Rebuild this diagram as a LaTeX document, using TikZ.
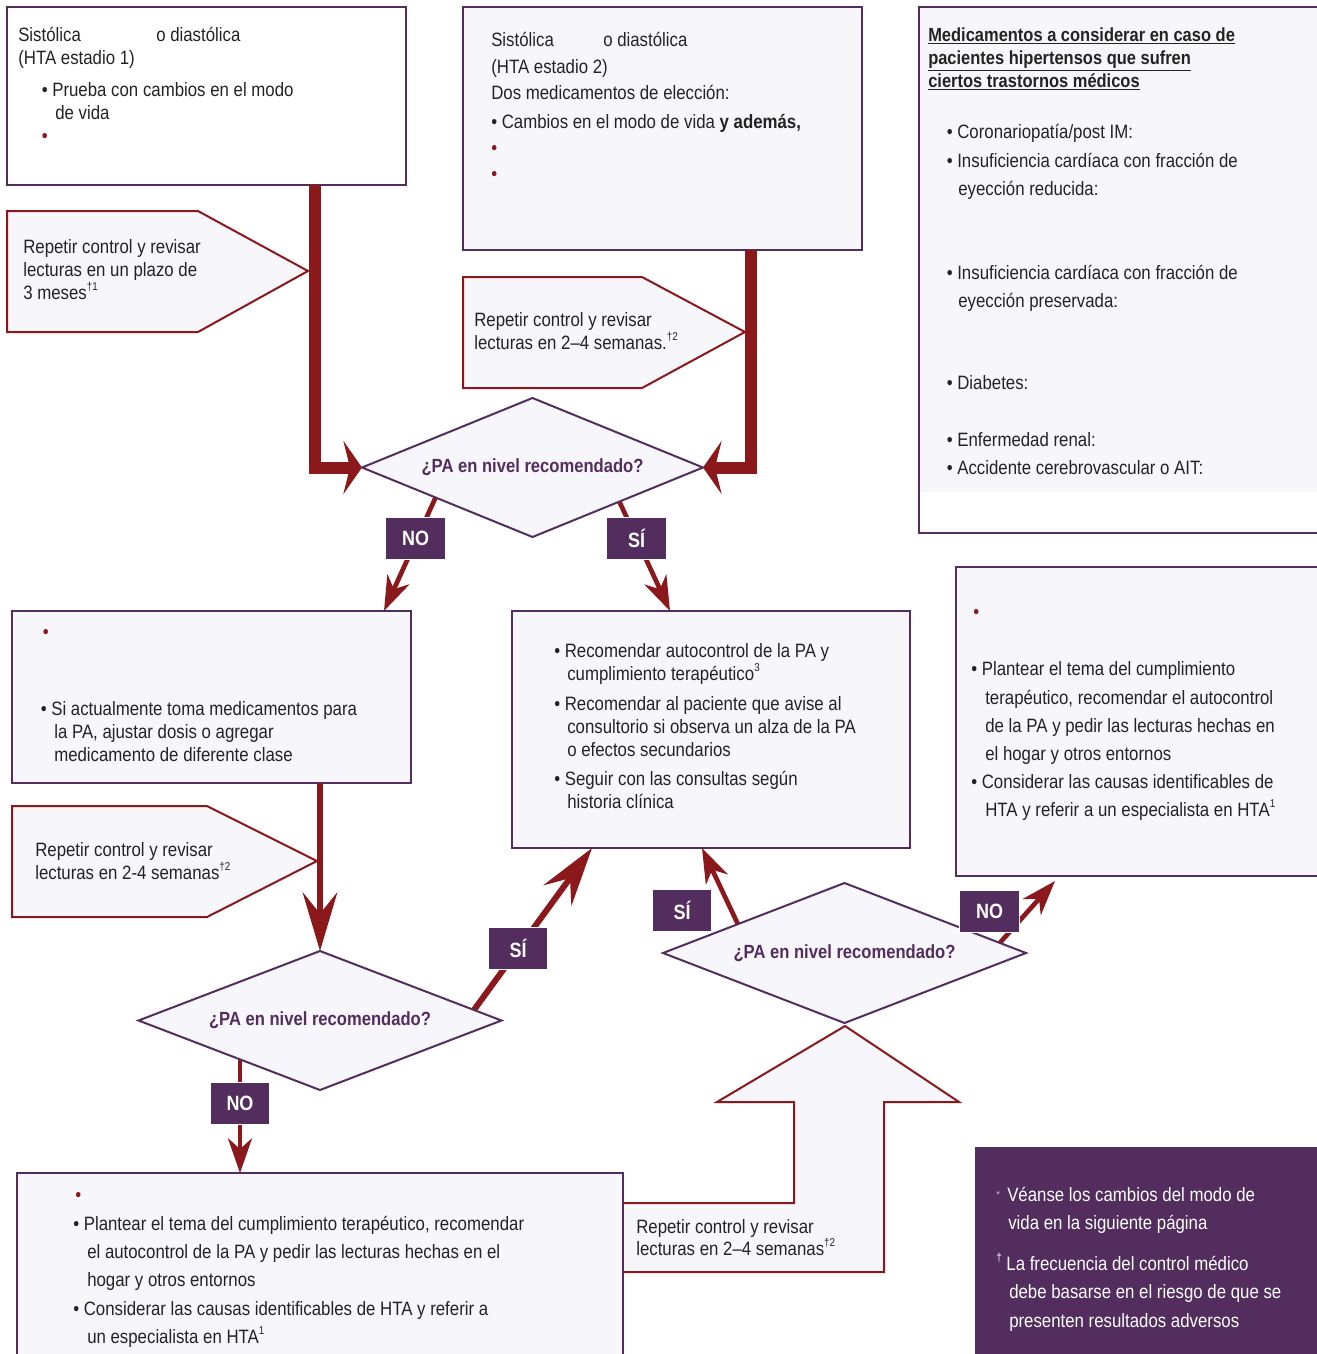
\documentclass[tikz,border=0pt]{standalone}
\usepackage{fontspec}
\setmainfont{Liberation Sans}[FakeStretch=0.87]
\usetikzlibrary{arrows.meta,shapes.geometric,fit}
\definecolor{hpurple}{RGB}{82,45,94}
\definecolor{hred}{RGB}{139,24,27}
\definecolor{hlav}{RGB}{247,246,251}
\definecolor{htext}{RGB}{35,35,35}
\newcommand\supmark[1]{\raisebox{0.85ex}{\fontsize{8.5}{9}\selectfont #1}}
\tikzset{
  box/.style={draw=hpurple, line width=1.5pt, fill=hlav, inner sep=0pt, outer sep=0pt},
  pent/.style={draw=hred, line width=1.5pt, fill=hlav},
  txt/.style={anchor=base west, inner sep=0pt, text=htext, font=\fontsize{14.5}{17}\selectfont},
  wtxt/.style={anchor=base west, inner sep=0pt, text=white, font=\fontsize{14.5}{17}\selectfont},
  rdot/.style={anchor=base west, inner sep=0pt, text=hred, font=\fontsize{14.5}{17}\selectfont},
  dia/.style={diamond, draw=hpurple, line width=1.5pt, fill=hlav, inner sep=0pt, outer sep=0pt, aspect=2.4, text=hpurple, font=\fontsize{14.3}{16}\selectfont\bfseries},
  lab/.style={fill=hpurple, draw=white, line width=0.8pt, text=white, font=\fontsize{15.5}{16}\selectfont\bfseries, minimum width=44.5pt, minimum height=31pt, inner sep=0pt},
  thickc/.style={draw=hred, line width=9pt, -{Stealth[length=14pt,width=40pt,inset=5pt]}},
  bigc/.style={draw=hred, line width=4.5pt, -{Stealth[length=44pt,width=26pt,inset=16pt]}},
  smallc/.style={draw=hred, line width=3.5pt, -{Stealth[length=26pt,width=18pt,inset=8pt]}}
}
\begin{document}
\begin{tikzpicture}[x=0.75pt,y=-0.75pt]
\useasboundingbox (0,0) rectangle (1317,1354);
\clip (0,0) rectangle (1317,1354);
% ---------- boxes ----------
\node[box, fill=white, fit={(7,7) (406,185)}] (b1) {};
\node[box, fit={(463,7) (862,250)}] (b2) {};
\node[box, fill=white, fit={(919,7) (1325,533)}] (b3) {};
\fill[hlav] (920,8) rectangle (1325,492);
\node[box, fit={(12,611) (411,783)}] (b4) {};
\node[box, fit={(512,611) (910,848)}] (b5) {};
\node[box, fit={(956,567) (1325,876)}] (b7) {};
% pentagons
\draw[pent] (7,211) -- (198,211) -- (308,271) -- (198,332) -- (7,332) -- cycle;
\draw[pent] (463,277) -- (642,277) -- (745,332) -- (642,388) -- (463,388) -- cycle;
\draw[pent] (12,806) -- (207,806) -- (317,861) -- (207,917) -- (12,917) -- cycle;
% big up arrow
\draw[pent] (623,1203) -- (794,1203) -- (794,1102) -- (717,1102) -- (845,1026) -- (959,1102) -- (884,1102) -- (884,1272) -- (623,1272);
\node[box, fit={(17,1173) (623,1362)}] (b6) {};
% footnote box
\node[fill=hpurple, inner sep=0pt, fit={(975,1147) (1325,1362)}] (fn) {};
% ---------- connectors from diamonds (under diamonds) ----------
\coordinate (a1s) at (439,490); \coordinate (a1e) at (384,611);
\coordinate (a2s) at (614,490); \coordinate (a2e) at (670,611);
\coordinate (a3s) at (463,1025); \coordinate (a3e) at (592,848);
\coordinate (a4s) at (240,1050); \coordinate (a4e) at (240,1173);
\coordinate (a5s) at (743,935); \coordinate (a5e) at (702,848);
\coordinate (a6s) at (989,955); \coordinate (a6e) at (1055,881);
\draw[smallc] (a1s) -- (a1e);
\draw[smallc] (a2s) -- (a2e);
\draw[bigc] (a3s) -- (a3e);
\draw[smallc] (a4s) -- (a4e);
\draw[smallc] (a5s) -- (a5e);
\draw[smallc] (a6s) -- (a6e);
% ---------- diamonds ----------
\node[dia, minimum width=255.75pt, minimum height=104.25pt] (d1) at (532.5,467.5) {¿PA en nivel recomendado?};
\node[dia, minimum width=272.25pt, minimum height=104.25pt] (d2) at (320,1020.5) {¿PA en nivel recomendado?};
\node[dia, minimum width=272.25pt, minimum height=105pt] (d3) at (844.5,953) {¿PA en nivel recomendado?};
% thick connectors into diamond 1 and into diamond 2
\coordinate (s1) at (314.5,185);
\coordinate (s2) at (751,250);
\coordinate (s3) at (320,783);
\draw[thickc] (s1) |- (d1.west);
\draw[thickc] (s2) |- (d1.east);
\draw[bigc] (s3) -- (d2.north);
% ---------- labels ----------
\node[lab] (l1) at (415.5,538.5) {NO};
\node[lab] (l2) at (636.5,538.5) {SÍ};
\node[lab] (l3) at (518,948.5) {SÍ};
\node[lab] (l4) at (240,1103.5) {NO};
\node[lab] (l5) at (682,910.5) {SÍ};
\node[lab] (l6) at (989.5,911.5) {NO};
% ---------- texts ----------
% box 1
\node[txt] at (18,41) {Sistólica};
\node[txt] at (156,41) {o diastólica};
\node[txt] at (18,64) {(HTA estadio 1)};
\node[txt] at (41.5,96) {•~Prueba con cambios en el modo};
\node[txt] at (55,119) {de vida};
\node[rdot] at (41.5,142) {•};
% box 2
\node[txt] at (491,46) {Sistólica};
\node[txt] at (603,46) {o diastólica};
\node[txt] at (491,73) {(HTA estadio 2)};
\node[txt] at (491,99) {Dos medicamentos de elección:};
\node[txt] at (491,128) {•~Cambios en el modo de vida \textbf{y además,}};
\node[rdot] at (491,154) {•};
\node[rdot] at (491,180) {•};
% box 3
\node[txt, font=\fontsize{14.2}{17}\selectfont\bfseries] at (928,41) {\underline{Medicamentos a considerar en caso de}};
\node[txt, font=\fontsize{14.2}{17}\selectfont\bfseries] at (928,64) {\underline{pacientes hipertensos que sufren}};
\node[txt, font=\fontsize{14.2}{17}\selectfont\bfseries] at (928,87) {\underline{ciertos trastornos médicos}};
\node[txt] at (946.5,138) {•~Coronariopatía/post IM:};
\node[txt] at (946.5,167) {•~Insuficiencia cardíaca con fracción de};
\node[txt] at (958,195) {eyección reducida:};
\node[txt] at (946.5,279) {•~Insuficiencia cardíaca con fracción de};
\node[txt] at (958,307) {eyección preservada:};
\node[txt] at (946.5,389) {•~Diabetes:};
\node[txt] at (946.5,446) {•~Enfermedad renal:};
\node[txt] at (946.5,474) {•~Accidente cerebrovascular o AIT:};
% pentagon texts
\node[txt] at (23,253) {Repetir control y revisar};
\node[txt] at (23,276) {lecturas en un plazo de};
\node[txt] at (23,299) {3 meses\supmark{†1}};
\node[txt] at (474,326) {Repetir control y revisar};
\node[txt] at (474,349) {lecturas en 2–4 semanas.\supmark{†2}};
\node[txt] at (35,856) {Repetir control y revisar};
\node[txt] at (35,879) {lecturas en 2-4 semanas\supmark{†2}};
\node[txt] at (636,1233) {Repetir control y revisar};
\node[txt] at (636,1255) {lecturas en 2–4 semanas\supmark{†2}};
% box 4
\node[rdot] at (42.5,638) {•};
\node[txt] at (40.5,715) {•~Si actualmente toma medicamentos para};
\node[txt] at (54,738) {la PA, ajustar dosis o agregar};
\node[txt] at (54,761) {medicamento de diferente clase};
% box 5
\node[txt] at (554,657) {•~Recomendar autocontrol de la PA y};
\node[txt] at (567,680) {cumplimiento terapéutico\supmark{3}};
\node[txt] at (554,710) {•~Recomendar al paciente que avise al};
\node[txt] at (567,733) {consultorio si observa un alza de la PA};
\node[txt] at (567,756) {o efectos secundarios};
\node[txt] at (554,785) {•~Seguir con las consultas según};
\node[txt] at (567,808) {historia clínica};
% box 7
\node[rdot] at (973,618) {•};
\node[txt] at (971,675) {•~Plantear el tema del cumplimiento};
\node[txt] at (985,704) {terapéutico, recomendar el autocontrol};
\node[txt] at (985,732) {de la PA y pedir las lecturas hechas en};
\node[txt] at (985,760) {el hogar y otros entornos};
\node[txt] at (971,788) {•~Considerar las causas identificables de};
\node[txt] at (985,816) {HTA y referir a un especialista en HTA\supmark{1}};
% box 6
\node[rdot] at (75,1201) {•};
\node[txt] at (73,1230) {•~Plantear el tema del cumplimiento terapéutico, recomendar};
\node[txt] at (87,1258) {el autocontrol de la PA y pedir las lecturas hechas en el};
\node[txt] at (87,1286) {hogar y otros entornos};
\node[txt] at (73,1315) {•~Considerar las causas identificables de HTA y referir a};
\node[txt] at (87,1343) {un especialista en HTA\supmark{1}};
% footnotes
\node[wtxt, text=white!70!hpurple, font=\fontsize{8}{8}\selectfont] at (996,1198) {*};
\node[wtxt] at (1007,1201) {Véanse los cambios del modo de};
\node[wtxt] at (1008,1229) {vida en la siguiente página};
\node[wtxt] at (996,1270) {\supmark{†}\ La frecuencia del control médico};
\node[wtxt] at (1009,1298) {debe basarse en el riesgo de que se};
\node[wtxt] at (1009,1327) {presenten resultados adversos};
\end{tikzpicture}
\end{document}
